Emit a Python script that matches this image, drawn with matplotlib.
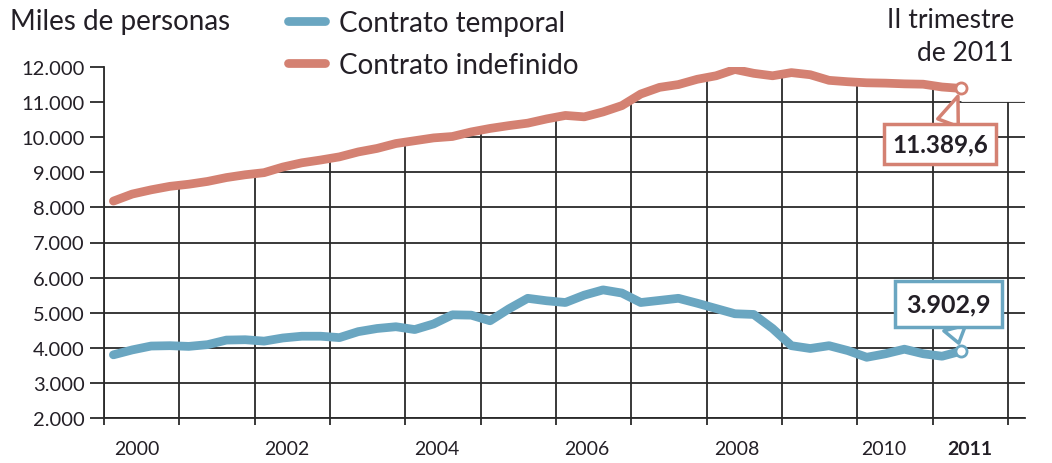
import numpy as np
import matplotlib.pyplot as plt
from matplotlib.lines import Line2D
from matplotlib.ticker import FuncFormatter

plt.rcParams['font.family'] = ['Lato', 'DejaVu Sans']

# miles de personas, trimestral, 2000T1 - 2011T2
temporal = [3800, 3940, 4050, 4060, 4040, 4090, 4220, 4230,
            4190, 4280, 4330, 4330, 4290, 4460, 4550, 4600,
            4520, 4680, 4940, 4930, 4770, 5110, 5410, 5340,
            5290, 5500, 5650, 5560, 5290, 5350, 5410, 5270,
            5120, 4970, 4950, 4550, 4060, 3980, 4060, 3920,
            3730, 3830, 3960, 3830, 3760, 3902.9]
indefinido = [8180, 8380, 8500, 8600, 8660, 8740, 8850, 8930,
              8990, 9150, 9270, 9350, 9440, 9580, 9680, 9820,
              9900, 9980, 10020, 10150, 10250, 10330, 10400, 10520,
              10620, 10580, 10720, 10900, 11230, 11420, 11500, 11650,
              11750, 11930, 11820, 11750, 11840, 11780, 11620, 11580,
              11550, 11540, 11520, 11510, 11430, 11389.6]
anios = np.repeat(np.arange(2000, 2012), 4)[:46]
trimestres = np.tile([1, 2, 3, 4], 12)[:46]
x = anios + (trimestres - 0.5) / 4

etiquetas_anio = ['2000', '2002', '2004', '2006', '2008', '2010', '2011']
pos_etiquetas = [2000.44, 2002.43, 2004.42, 2006.41, 2008.40, 2010.35, 2011.5]

AZUL = '#6aa6c1'
NARANJA = '#d48172'
TXT = '#231f26'
GRID = '#2a2a2a'

fig = plt.figure(figsize=(10.52, 4.64), dpi=100)
W, H = 1052, 464
ax = fig.add_axes([104 / W, 1 - 419 / H, (1025 - 104) / W, (419 - 68) / H])
xmax = 2000 + (1025 - 104) / 75.33
ax.set_xlim(2000, xmax)
ax.set_ylim(2000, 12000)

ax.set_yticks(np.arange(2000, 12001, 1000))
ax.yaxis.set_major_formatter(FuncFormatter(lambda v, p: f'{v:,.0f}'.replace(',', '.')))
ax.set_xticks(np.arange(2000, 2013))
ax.set_xticklabels([])
ax.set_xticks(pos_etiquetas, minor=True)
ax.set_xticklabels(etiquetas_anio, minor=True)
ax.tick_params(axis='x', which='major', length=5, width=1.3, color=GRID, direction='out')
ax.tick_params(axis='x', which='minor', length=0, pad=16, labelsize=14, labelcolor=TXT)
ax.tick_params(axis='y', length=10, width=1.3, color=GRID, pad=4, labelsize=14.5, labelcolor=TXT)
ax.get_xticklabels(minor=True)[-1].set_fontweight('bold')

ax.set_axisbelow(True)
ax.grid(True, which='major', color=GRID, lw=1.3)
for s in ['top', 'right']:
    ax.spines[s].set_visible(False)
for s in ['left', 'bottom']:
    ax.spines[s].set_color(GRID)
    ax.spines[s].set_linewidth(1.3)

# tapar la rejilla por encima de la curva de indefinidos
xf = np.r_[2000, x, x[-1] + 1e-3, xmax]
yf = np.r_[indefinido[0], indefinido, 11020, 11020]
ax.fill_between(xf, yf, 13000, color='white', lw=0, zorder=1)

ax.plot(x, temporal, color=AZUL, lw=6.3, solid_capstyle='round', solid_joinstyle='round', zorder=3)
ax.plot(x, indefinido, color=NARANJA, lw=6.3, solid_capstyle='round', solid_joinstyle='round', zorder=3)
for serie, col in [(temporal, AZUL), (indefinido, NARANJA)]:
    ax.plot(x[-1], serie[-1], 'o', ms=8, mfc='white', mec=col, mew=2, zorder=5)

def fmt(v):
    return f'{v:,.1f}'.replace(',', 'X').replace('.', ',').replace('X', '.')

ax.annotate(fmt(indefinido[-1]), xy=(x[-1], indefinido[-1]), xytext=(-15, -40),
            textcoords='offset points', ha='center', va='center', fontsize=17.5,
            fontweight='bold', color=TXT, zorder=6,
            bbox=dict(boxstyle='square,pad=0.35', fc='white', ec=NARANJA, lw=2.5),
            arrowprops=dict(arrowstyle='wedge,tail_width=0.9,shrink_factor=0.5',
                            fc='white', ec=NARANJA, lw=2.5, shrinkA=0, shrinkB=6))
ax.annotate(fmt(temporal[-1]), xy=(x[-1], temporal[-1]), xytext=(-9, 34),
            textcoords='offset points', ha='center', va='center', fontsize=18,
            fontweight='bold', color=TXT, zorder=6,
            bbox=dict(boxstyle='square,pad=0.45', fc='white', ec=AZUL, lw=2.5),
            arrowprops=dict(arrowstyle='wedge,tail_width=0.9,shrink_factor=0.5',
                            fc='white', ec=AZUL, lw=2.5, shrinkA=0, shrinkB=6))

fig.text(10 / W, 1 - 22 / H, 'Miles de personas', fontsize=20, color=TXT, va='center')
fig.text(1014 / W, 1 - 8 / H, 'II trimestre\nde 2011', fontsize=19, color=TXT,
         ha='right', va='top', linespacing=1.4)

handles = [Line2D([], [], color=AZUL, lw=6.3, solid_capstyle='round'),
           Line2D([], [], color=NARANJA, lw=6.3, solid_capstyle='round')]
fig.legend(handles, ['Contrato temporal', 'Contrato indefinido'], loc='upper left',
           bbox_to_anchor=(285 / W, 1 - 8 / H), frameon=False, fontsize=20,
           handlelength=1.35, handletextpad=0.5, labelspacing=0.57,
           labelcolor=TXT, borderaxespad=0, borderpad=0.1)

fig.savefig('out.png', dpi=100)
